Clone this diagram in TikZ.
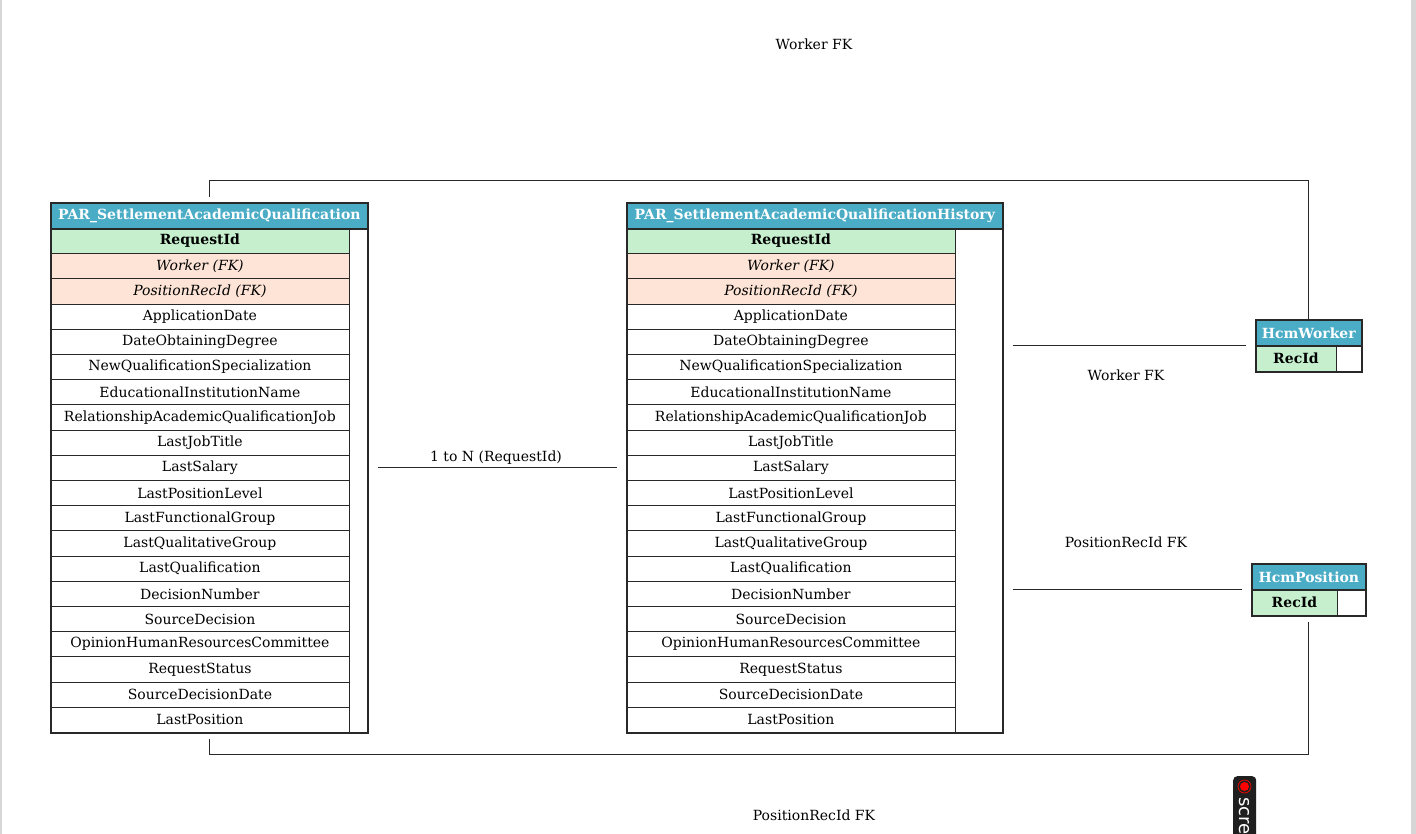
\documentclass[tikz,border=0pt]{standalone}
\usepackage{fontspec}
\setmainfont{DejaVu Serif}
\setsansfont{DejaVu Sans}
\usetikzlibrary{calc}
\definecolor{hdr}{RGB}{75,172,198}
\definecolor{pkc}{RGB}{198,239,206}
\definecolor{fkc}{RGB}{253,228,214}
\definecolor{lnc}{RGB}{40,40,40}
\definecolor{edgec}{RGB}{214,214,214}
\tikzset{
  txt/.style={font=\fontsize{14}{16}\selectfont, inner sep=0pt},
  hdrbox/.style={fill=hdr, draw=lnc, line width=1.6pt, anchor=north west, inner sep=0pt,
    text=white, font=\fontsize{14}{16}\selectfont\bfseries, minimum height=26pt},
  rowbox/.style={draw=lnc, line width=0.8pt, anchor=north west, inner sep=0pt,
    minimum height=25.2pt, font=\fontsize{14}{16}\selectfont},
  pkrow/.style={rowbox, fill=pkc, font=\fontsize{14}{16}\selectfont\bfseries},
  fkrow/.style={rowbox, fill=fkc, font=\fontsize{14}{16}\selectfont\itshape},
  tblbox/.style={draw=lnc, line width=1.6pt, anchor=north west, inner sep=0pt},
  conn/.style={draw=lnc, line width=0.8pt},
}
% #1 name, #2 x, #3 title, #4 cell width, #5 full width
\newcommand{\erdtable}[5]{%
  \node[rowbox, fill=white, minimum width=#5, minimum height=504pt] (#1-bg) at (#2,228) {};
  \node[pkrow, minimum width=#4] (#1-0) at (#2,228) {RequestId};
  \node[fkrow, minimum width=#4] (#1-1) at (#2,253.2) {Worker (FK)};
  \node[fkrow, minimum width=#4] (#1-2) at (#2,278.4) {PositionRecId (FK)};
  \foreach \t [count=\i from 3] in {ApplicationDate,DateObtainingDegree,NewQualificationSpecialization,EducationalInstitutionName,RelationshipAcademicQualificationJob,LastJobTitle,LastSalary,LastPositionLevel,LastFunctionalGroup,LastQualitativeGroup,LastQualification,DecisionNumber,SourceDecision,OpinionHumanResourcesCommittee,RequestStatus,SourceDecisionDate,LastPosition}{
    \node[rowbox, fill=white, minimum width=#4] (#1-\i) at (#2,228+25.2*\i) {\t};
  }
  \node[hdrbox, minimum width=#5] (#1-h) at (#2,202) {#3};
  \node[tblbox, minimum width=#5, minimum height=530pt] (#1) at (#2,202) {};
}
\begin{document}
\begin{tikzpicture}[x=1pt,y=-1pt]
\useasboundingbox (0,0) rectangle (1416,834);
\clip (0,0) rectangle (1416,834);
\fill[white] (0,0) rectangle (1416,834);
\fill[edgec] (0,0) rectangle (1.5,834);
\fill[edgec] (1411,0) rectangle (1416,834);

\erdtable{T1}{50}{PAR\_SettlementAcademicQualification}{299pt}{317pt}
\erdtable{T2}{626}{PAR\_SettlementAcademicQualificationHistory}{329pt}{376pt}

% HcmWorker
\node[rowbox, fill=white, minimum width=106pt, minimum height=26pt] (W-bg) at (1255,345) {};
\node[pkrow, minimum width=81pt, minimum height=26pt] (W-0) at (1255,345) {RecId};
\node[hdrbox, minimum width=106pt] (W-h) at (1255,319) {HcmWorker};
\node[tblbox, minimum width=106pt, minimum height=52pt] (W) at (1255,319) {};

% HcmPosition
\node[rowbox, fill=white, minimum width=114pt, minimum height=26pt] (P-bg) at (1251,589) {};
\node[pkrow, minimum width=86pt, minimum height=26pt] (P-0) at (1251,589) {RecId};
\node[hdrbox, minimum width=114pt] (P-h) at (1251,563) {HcmPosition};
\node[tblbox, minimum width=114pt, minimum height=52pt] (P) at (1251,563) {};

% connectors
\draw[conn] ([yshift=5pt]T1.north) -- ++(0,-17) -| (W.north);
\draw[conn] ([yshift=-5pt]T1.south) -- ++(0,16) -| ([yshift=-5pt]P.south);
\draw[conn] ([xshift=9pt]T1.east) -- ([xshift=-9pt]T2.west);
\draw[conn] ([xshift=9pt]T2.east |- W.west) -- ([xshift=-9pt]W.west);
\draw[conn] ([xshift=9pt]T2.east |- P.west) -- ([xshift=-9pt]P.west);

% labels
\node[txt] (l1) at (814,44) {Worker FK};
\node[txt] (l2) at (496,458) {1 to N (RequestId)};
\node[txt] (l3) at (1126,375) {Worker FK};
\node[txt] (l4) at (1126,542) {PositionRecId FK};
\node[txt] (l5) at (814,815) {PositionRecId FK};

% screen-recorder widget
\node[fill=black!88, rounded corners=4pt, minimum width=23pt, minimum height=80pt, anchor=north west, inner sep=0pt] (rec) at (1233,776) {};
\fill[red] (1244.5,786.5) circle (4.5pt);
\draw[red, line width=0.7pt] (1244.5,786.5) circle (6.5pt);
\node[rotate=-90, anchor=west, text=white, font=\sffamily\fontsize{18}{18}\selectfont, inner sep=0pt] (rect) at (1244.5,797) {scre};
\end{tikzpicture}
\end{document}
